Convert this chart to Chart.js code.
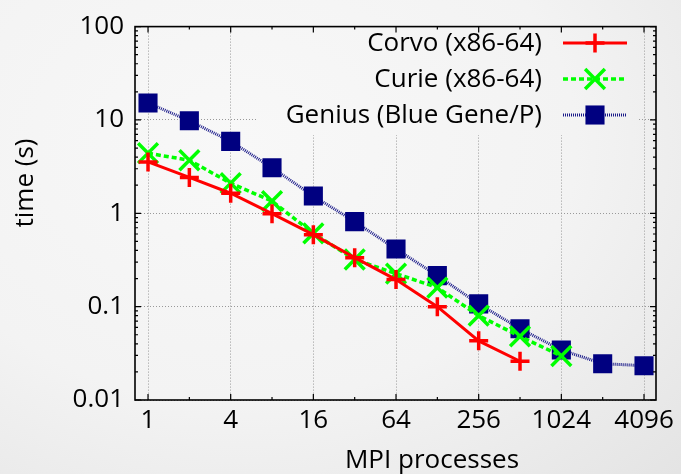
<!DOCTYPE html>
<html>
<head>
<meta charset="utf-8">
<script src="https://cdn.jsdelivr.net/npm/chart.js@4.4.1/dist/chart.umd.min.js"></script>
<style>
  html, body { margin: 0; padding: 0; }
  body {
    width: 681px; height: 474px; overflow: hidden;
    background: radial-gradient(ellipse 90% 100% at 35% 30%, #f8f8f8 0%, #f3f3f3 55%, #e4e4e4 100%);
  }
  #wrap { position: relative; width: 681px; height: 474px; }
</style>
</head>
<body>
<div id="wrap"><canvas id="perf" width="681" height="474"></canvas></div>
<script>
const procs = [1, 2, 4, 8, 16, 32, 64, 128, 256, 512, 1024, 2048, 4096];
const corvo = [3.55, 2.42, 1.64, 0.99, 0.59, 0.335, 0.195, 0.1, 0.043, 0.026];
const curie = [4.4, 3.7, 2.1, 1.35, 0.61, 0.32, 0.226, 0.16, 0.08, 0.048, 0.0296];
const genius = [15.2, 9.8, 5.9, 3.08, 1.53, 0.815, 0.414, 0.215, 0.107, 0.058, 0.0343, 0.0245, 0.0233];
const names = ['Corvo (x86-64)', 'Curie (x86-64)', 'Genius (Blue Gene/P)'];
const xTicks = [1, 4, 16, 64, 256, 1024, 4096];
const xTickLabels = ['1', '4', '16', '64', '256', '1024', '4096'];
const yTicks = [0.01, 0.1, 1, 10, 100];
const yTickLabels = ['0.01', '0.1', '1', '10', '100'];

const FONT = '"Open Sans", "DejaVu Sans", sans-serif';
const FSIZE = 26;

function pts(ys) {
  return ys.map((y, i) => ({ x: procs[i], y: y }));
}

// inward ticks + frame, gnuplot style
const frame = {
  id: 'frame',
  afterDraw(chart) {
    const { ctx, chartArea: a, scales } = chart;
    ctx.save();
    ctx.strokeStyle = '#000';
    ctx.lineWidth = 1.2;
    ctx.beginPath();
    for (let e = 0; e <= 12; e++) {
      const px = scales.x.getPixelForValue(Math.pow(2, e));
      const len = e % 2 === 0 ? 6 : 3;
      ctx.moveTo(px, a.bottom); ctx.lineTo(px, a.bottom - len);
      ctx.moveTo(px, a.top); ctx.lineTo(px, a.top + len);
    }
    for (let d = -2; d <= 2; d++) {
      for (let m = 1; m <= 9; m++) {
        const v = m * Math.pow(10, d);
        if (v > 100) continue;
        const py = scales.y.getPixelForValue(v);
        const len = m === 1 ? 6 : 3;
        ctx.moveTo(a.left, py); ctx.lineTo(a.left + len, py);
        ctx.moveTo(a.right, py); ctx.lineTo(a.right - len, py);
      }
    }
    ctx.stroke();
    ctx.lineWidth = 1.6;
    ctx.strokeRect(a.left, a.top, a.right - a.left, a.bottom - a.top);

    ctx.fillStyle = '#000';
    ctx.font = FSIZE + 'px ' + FONT;
    ctx.textAlign = 'center';
    ctx.textBaseline = 'middle';
    ctx.fillText('MPI processes', 432, 461);
    ctx.translate(26, 183);
    ctx.rotate(-Math.PI / 2);
    ctx.fillText('time (s)', 0, 0);
    ctx.restore();
  }
};

// legend inside the plot, text right-aligned, sample on the right
const key = {
  id: 'key',
  beforeDatasetsDraw(chart) {
    chart.ctx.clearRect(258, 21, 380, 114);
  },
  afterDatasetsDraw(chart) {
    const ctx = chart.ctx;
    const rows = [43, 79, 115];
    ctx.save();
    chart.data.datasets.forEach((ds, i) => {
      const y = rows[i];
      ctx.fillStyle = '#000';
      ctx.font = FSIZE + 'px ' + FONT;
      ctx.textAlign = 'right';
      ctx.textBaseline = 'middle';
      ctx.fillText(names[i], 542, y + 1);
      ctx.strokeStyle = ds.borderColor;
      ctx.lineWidth = ds.borderWidth;
      ctx.setLineDash(ds.borderDash || []);
      ctx.beginPath();
      ctx.moveTo(563, y); ctx.lineTo(627, y);
      ctx.stroke();
      ctx.setLineDash([]);
      ctx.lineWidth = ds.pointBorderWidth;
      ctx.strokeStyle = ds.pointBorderColor;
      ctx.fillStyle = ds.pointBackgroundColor;
      Chart.helpers.drawPoint(ctx, { pointStyle: ds.pointStyle, radius: ds.pointRadius, borderWidth: ds.pointBorderWidth }, 595, y);
    });
    ctx.restore();
  }
};

const chart = new Chart(document.getElementById('perf'), {
  type: 'line',
  data: {
    datasets: [{
      label: names[0],
      data: pts(corvo),
      borderColor: '#ff0000',
      borderWidth: 3,
      pointStyle: 'cross',
      pointRadius: 9.5,
      pointBorderWidth: 3.5,
      pointBorderColor: '#ff0000',
      pointBackgroundColor: '#ff0000'
    }, {
      label: names[1],
      data: pts(curie),
      borderColor: '#00ff00',
      borderWidth: 3.5,
      borderDash: [5, 3],
      pointStyle: 'crossRot',
      pointRadius: 14,
      pointBorderWidth: 3.5,
      pointBorderColor: '#00ff00',
      pointBackgroundColor: '#00ff00'
    }, {
      label: names[2],
      data: pts(genius),
      borderColor: '#1b1b8a',
      borderWidth: 3,
      borderDash: [1, 1],
      pointStyle: 'rect',
      pointRadius: 13.5,
      pointBorderWidth: 0,
      pointBorderColor: '#000080',
      pointBackgroundColor: '#000080'
    }]
  },
  options: {
    responsive: false,
    animation: false,
    devicePixelRatio: 1,
    layout: { padding: { top: 19, right: 25, left: 0, bottom: 0 } },
    plugins: { legend: { display: false }, tooltip: { enabled: false } },
    elements: { line: { tension: 0 }, point: { hoverRadius: 0 } },
    scales: {
      x: {
        type: 'logarithmic',
        min: Math.pow(2, -0.315),
        max: Math.pow(2, 12.29),
        afterBuildTicks(s) { s.ticks = xTicks.map(v => ({ value: v })); },
        afterFit(s) { s.height = 74; },
        ticks: {
          autoSkip: false, maxRotation: 0, padding: 5, color: '#000',
          font: { family: FONT, size: FSIZE },
          callback: (v) => xTickLabels[xTicks.indexOf(v)]
        },
        grid: { color: '#999', lineWidth: 1, drawTicks: false },
        border: { display: false, dash: [1, 2] }
      },
      y: {
        type: 'logarithmic',
        min: 0.01,
        max: 100,
        afterBuildTicks(s) { s.ticks = yTicks.map(v => ({ value: v })); },
        afterFit(s) { s.width = 135; },
        ticks: {
          autoSkip: false, padding: 11, color: '#000',
          font: { family: FONT, size: FSIZE },
          callback: (v) => yTickLabels[yTicks.indexOf(v)]
        },
        grid: { color: '#999', lineWidth: 1, drawTicks: false },
        border: { display: false, dash: [1, 2] }
      }
    }
  },
  plugins: [frame, key]
});
</script>
</body>
</html>
